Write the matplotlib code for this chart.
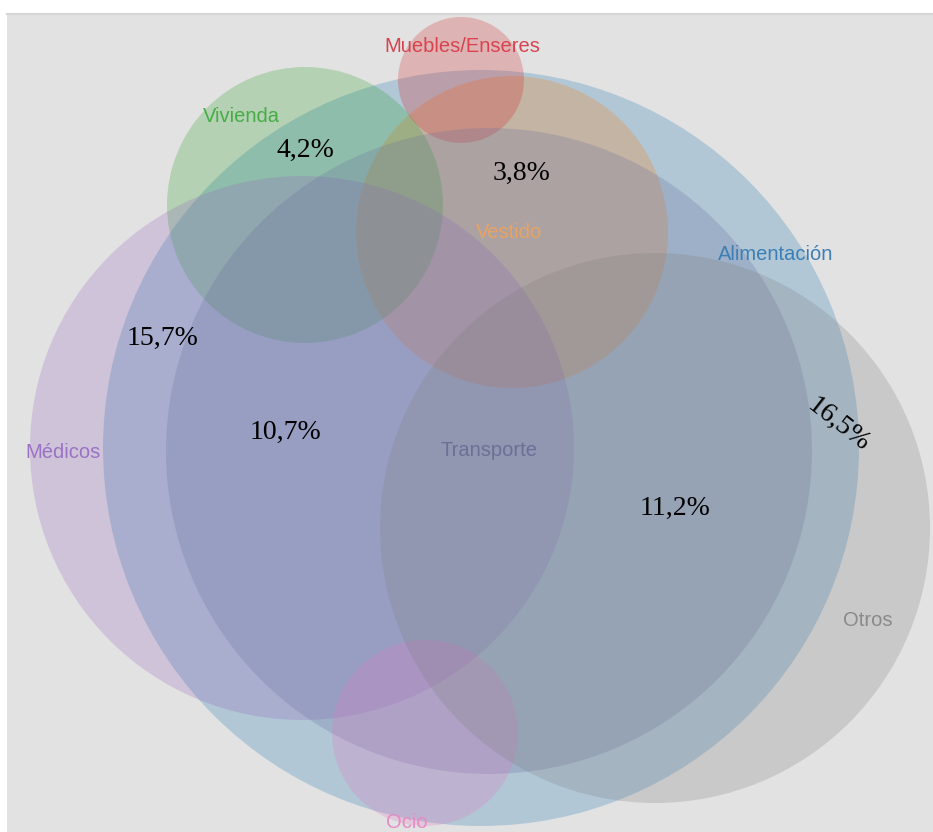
import matplotlib
matplotlib.use("Agg")
import matplotlib.pyplot as plt
from matplotlib.patches import Circle, Rectangle

# sets of the diagram (drawing order)
sets = ["Alimentación", "Vestido", "Vivienda", "Muebles/Enseres",
        "Médicos", "Transporte", "Ocio", "Otros"]
# circle geometry in pixels (centre x, centre y, radius)
cx = [481, 512, 305, 461, 302, 489, 425, 655]
cy = [448, 232, 205, 80, 448, 451, 733, 528]
rad = [378, 156, 138, 63, 272, 323, 93, 275]

# percentages written on the diagram
pct_text = ["4,2%", "3,8%", "15,7%", "10,7%", "11,2%", "16,5%"]

fill_col = ["#1f77b4", "#ff7f0e", "#2ca02c", "#d62728",
            "#9467bd", "#686f9e", "#e377c2", "#7f7f7f"]
label_col = ["#3b7fb6", "#e9a263", "#46ad46", "#d9434f",
             "#9a72c4", "#6c7096", "#e58cc6", "#8a8a8a"]
label_xy = [(776, 254), (509, 232), (241, 117), (462, 47),
            (63, 452), (489, 450), (407, 822), (868, 621)]
pct_xy = [(305, 150), (522, 173), (163, 338), (285, 432), (675, 508), (838, 425)]
pct_rot = [0, 0, 0, 0, 0, -38]

W, H = 933, 832
fig = plt.figure(figsize=(W / 100, H / 100), dpi=100)
ax = fig.add_axes([0, 0, 1, 1])
ax.set_xlim(0, W)
ax.set_ylim(H, 0)
ax.axis("off")

ax.add_patch(Rectangle((7, 13), W, H, facecolor="#e2e2e2", edgecolor="none", zorder=0))
ax.plot([7, W], [13.5, 13.5], color="#d6d6d6", lw=1.5, zorder=0.5)

for i, name in enumerate(sets):
    ax.add_patch(Circle((cx[i], cy[i]), rad[i], facecolor=fill_col[i],
                        alpha=0.25, edgecolor="none", zorder=1))

for i, name in enumerate(sets):
    ax.text(label_xy[i][0], label_xy[i][1], name, color=label_col[i],
            fontsize=14.5, family="Liberation Sans", ha="center", va="center", zorder=3)

for t, (x, y), r in zip(pct_text, pct_xy, pct_rot):
    ax.text(x, y, t, fontsize=20, family="Liberation Serif", color="black",
            ha="center", va="center", rotation=r, zorder=4)

fig.savefig("out.png", dpi=100)
